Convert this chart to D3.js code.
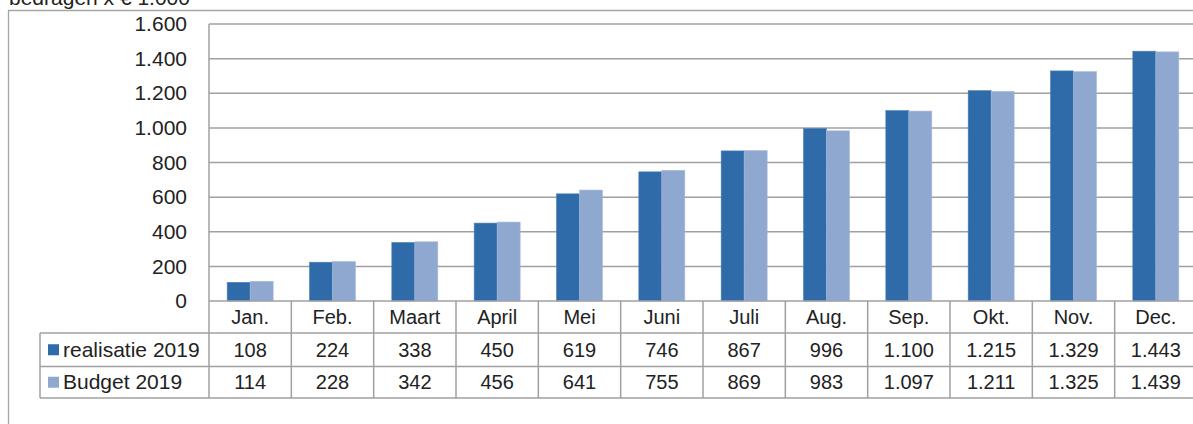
<!DOCTYPE html>
<html>
<head>
<meta charset="utf-8">
<script src="https://cdn.jsdelivr.net/npm/d3@7"></script>
<style>
  body { margin: 0; background: #fff; }
  svg { display: block; font-family: "Liberation Sans", Arial, sans-serif; }
</style>
</head>
<body>
<div id="chart"></div>
<script>
// data
const months = ["Jan.", "Feb.", "Maart", "April", "Mei", "Juni", "Juli", "Aug.", "Sep.", "Okt.", "Nov.", "Dec."];
const realisatie = [108, 224, 338, 450, 619, 746, 867, 996, 1100, 1215, 1329, 1443];
const budget = [114, 228, 342, 456, 641, 755, 869, 983, 1097, 1211, 1325, 1439];
const seriesNames = ["realisatie 2019", "Budget 2019"];
const yTicks = [0, 200, 400, 600, 800, 1000, 1200, 1400, 1600];

const W = 1193, H = 424;
const colors = ["#2e6ba8", "#8fa8d0"];
const gridCol = "#a0a0a0";

// plot area
const plotL = 209, plotR = 1197, plotT = 24, plotB = 301;
const rowLines = [301, 333, 366.5, 398];
const tableLeft = 40;

const fmt = v => d3.format(",")(v).replace(/,/g, ".");

const svg = d3.select("#chart").append("svg")
  .attr("width", W).attr("height", H);

// title (cut off at top as in the source)
svg.append("text")
  .attr("x", 9).attr("y", 5)
  .style("font-size", "21px").style("fill", "#222")
  .text("bedragen x € 1.000");

// outer frame
svg.append("path")
  .attr("d", `M8.5,${H} V10.5 H${W}`)
  .attr("fill", "none").attr("stroke", "#a6a6a6").attr("stroke-width", 1.3);

const x = d3.scaleBand().domain(months).range([plotL, plotR]);
const xs = d3.scaleBand().domain(seriesNames).range([0, 46]);
const y = d3.scaleLinear().domain([0, 1600]).range([plotB, plotT]);

// gridlines
svg.append("g").selectAll("line")
  .data(yTicks.filter(d => d > 0))
  .join("line")
  .attr("x1", plotL).attr("x2", plotR)
  .attr("y1", d => y(d)).attr("y2", d => y(d))
  .attr("stroke", gridCol).attr("stroke-width", 1.5);

// y axis labels
const yAxis = svg.append("g")
  .attr("transform", `translate(${plotL},0)`)
  .call(d3.axisLeft(y).tickValues(yTicks).tickFormat(fmt).tickSize(0).tickPadding(22));
yAxis.select(".domain").remove();
yAxis.selectAll("text").style("font-size", "21px").style("fill", "#222")
  .style("font-family", "Liberation Sans, Arial, sans-serif");

// bars
const series = [realisatie, budget];
series.forEach((vals, si) => {
  svg.append("g").selectAll("rect")
    .data(vals)
    .join("rect")
    .attr("x", (d, i) => x(months[i]) + x.bandwidth() / 2 - 23 + xs(seriesNames[si]))
    .attr("y", d => y(d))
    .attr("width", xs.bandwidth())
    .attr("height", d => plotB - y(d))
    .attr("fill", colors[si])
    .attr("stroke", si === 0 ? "#4a80b8" : "#a6bbdc")
    .attr("stroke-width", 0.6);
});

// data table
const tbl = svg.append("g").attr("stroke", gridCol).attr("stroke-width", 1.5);
// vertical axis line
tbl.append("line").attr("x1", plotL).attr("x2", plotL).attr("y1", plotT).attr("y2", rowLines[3]);
// horizontal lines
tbl.append("line").attr("x1", plotL).attr("x2", plotR).attr("y1", rowLines[0]).attr("y2", rowLines[0]);
rowLines.slice(1).forEach(r => {
  tbl.append("line").attr("x1", tableLeft).attr("x2", plotR).attr("y1", r).attr("y2", r);
});
tbl.append("line").attr("x1", tableLeft).attr("x2", tableLeft).attr("y1", rowLines[1]).attr("y2", rowLines[3]);
// month separators
months.forEach(m => {
  tbl.append("line")
    .attr("x1", x(m) + x.bandwidth()).attr("x2", x(m) + x.bandwidth())
    .attr("y1", rowLines[0]).attr("y2", rowLines[3]);
});

// header
svg.append("g").selectAll("text")
  .data(months).join("text")
  .attr("x", d => x(d) + x.bandwidth() / 2)
  .attr("y", (rowLines[0] + rowLines[1]) / 2 + 7)
  .attr("text-anchor", "middle")
  .style("font-size", "20px").style("fill", "#222")
  .text(d => d);

// value rows
series.forEach((vals, si) => {
  const cy = (rowLines[si + 1] + rowLines[si + 2]) / 2;
  const g = svg.append("g");
  g.selectAll("text")
    .data(vals).join("text")
    .attr("x", (d, i) => x(months[i]) + x.bandwidth() / 2)
    .attr("y", cy + 7)
    .attr("text-anchor", "middle")
    .style("font-size", "20px").style("fill", "#222")
    .text(d => fmt(d));
  g.append("rect")
    .attr("x", 48).attr("y", cy - 5.5)
    .attr("width", 11).attr("height", 11)
    .attr("fill", colors[si]);
  g.append("text")
    .attr("x", 63).attr("y", cy + 7)
    .style("font-size", "21px").style("fill", "#222")
    .text(seriesNames[si]);
});
</script>
</body>
</html>
